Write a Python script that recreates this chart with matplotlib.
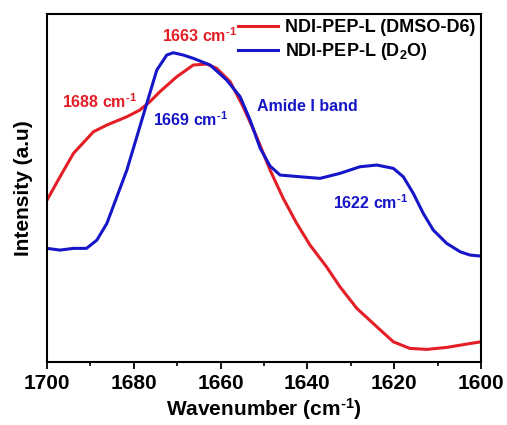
import numpy as np
import matplotlib.pyplot as plt
from matplotlib.ticker import MultipleLocator

plt.rcParams['font.family'] = ['Liberation Sans', 'DejaVu Sans']
plt.rcParams['font.weight'] = 'bold'
plt.rcParams['mathtext.fontset'] = 'custom'
plt.rcParams['mathtext.rm'] = 'Liberation Sans:bold'
plt.rcParams['mathtext.bf'] = 'Liberation Sans:bold'
plt.rcParams['mathtext.default'] = 'rm'

# DMSO-D6 spectrum (wavenumber, intensity a.u.)
dmso_x = [1700, 1697.0, 1693.9, 1689.3, 1686.2, 1681.6, 1678.6, 1676.3, 1674.0,
          1670.1, 1666.3, 1663.2, 1660.9, 1657.8, 1654.8, 1651.7, 1648.6, 1645.6,
          1642.5, 1639.4, 1635.6, 1632.5, 1628.6, 1624.0, 1620.2, 1616.4, 1612.5,
          1607.9, 1603.3, 1600]
dmso_y = [162, 185.3, 208.7, 230.3, 237, 245.3, 252, 260.3, 270.3,
          285.3, 297, 298, 293.7, 280.3, 255.3, 225.3, 192, 164,
          139, 117, 95.3, 75.3, 53.7, 35.3, 20.3, 13.7, 12.7,
          14.7, 18, 20.3]

# D2O spectrum
d2o_x = [1700, 1697.0, 1693.9, 1690.9, 1688.5, 1686.2, 1683.9, 1681.6, 1679.3,
         1677.0, 1674.7, 1672.4, 1670.9, 1668.6, 1666.3, 1662.4, 1658.6, 1655.5,
         1653.2, 1650.9, 1648.6, 1646.3, 1641.7, 1637.1, 1632.5, 1627.9, 1624.0,
         1620.2, 1617.9, 1615.6, 1613.3, 1611.0, 1607.9, 1604.8, 1602.5, 1600]
d2o_y = [113.7, 112, 113.7, 113.7, 122, 138.7, 165.3, 192, 225.3,
         258.7, 292, 307, 309.3, 307, 303.7, 297, 282, 265.3,
         242, 214, 196, 187, 185.3, 183.7, 188.7, 195.3, 197,
         193.7, 185.3, 168.7, 148.7, 132, 118.7, 110.3, 107, 106]

red = '#e41e26'
blue = '#1616c8'
inv = 'cm$^{\u2010 1}$'.replace(' ', '')

fig = plt.figure(figsize=(5.07, 4.25), dpi=100)
ax = fig.add_axes([0.0927, 0.148, 0.856, 0.819])

ax.plot(dmso_x, dmso_y, color=red, lw=2.2, solid_joinstyle='round',
        label='NDI-PEP-L (DMSO-D6)')
ax.plot(d2o_x, d2o_y, color=blue, lw=2.2, solid_joinstyle='round',
        label='NDI-PEP-L (D$_2$O)')

ax.set_xlim(1700, 1600)
ax.set_ylim(0, 348)
ax.xaxis.set_major_locator(MultipleLocator(20))
ax.xaxis.set_minor_locator(MultipleLocator(10))
ax.tick_params(axis='x', which='major', direction='out', length=5, width=1.3,
               labelsize=15, top=False)
ax.tick_params(axis='x', which='minor', direction='out', length=3, width=1.2, top=False)
ax.set_yticks([])
for s in ax.spines.values():
    s.set_linewidth(1.5)

ax.set_xlabel('Wavenumber (' + inv + ')', fontsize=15, fontweight='bold', labelpad=2)
ax.set_ylabel('Intensity (a.u)', fontsize=15, fontweight='bold', labelpad=10)

ax.text(1673.5, 326, '1663 ' + inv, color=red, fontsize=11.5, va='center')
ax.text(1696.5, 260, '1688 ' + inv, color=red, fontsize=11.5, va='center')
ax.text(1675.6, 242, '1669 ' + inv, color=blue, fontsize=11.5, va='center')
ax.text(1651.6, 256, 'Amide I band', color=blue, fontsize=11.5, va='center')
ax.text(1634.1, 159, '1622 ' + inv, color=blue, fontsize=11.5, va='center')

ax.legend(loc='upper right', frameon=False, fontsize=13, handlelength=2.2,
          handletextpad=0.4, labelspacing=0.25, borderaxespad=0.1,
          borderpad=0.2)

fig.savefig('out.png', dpi=100)
